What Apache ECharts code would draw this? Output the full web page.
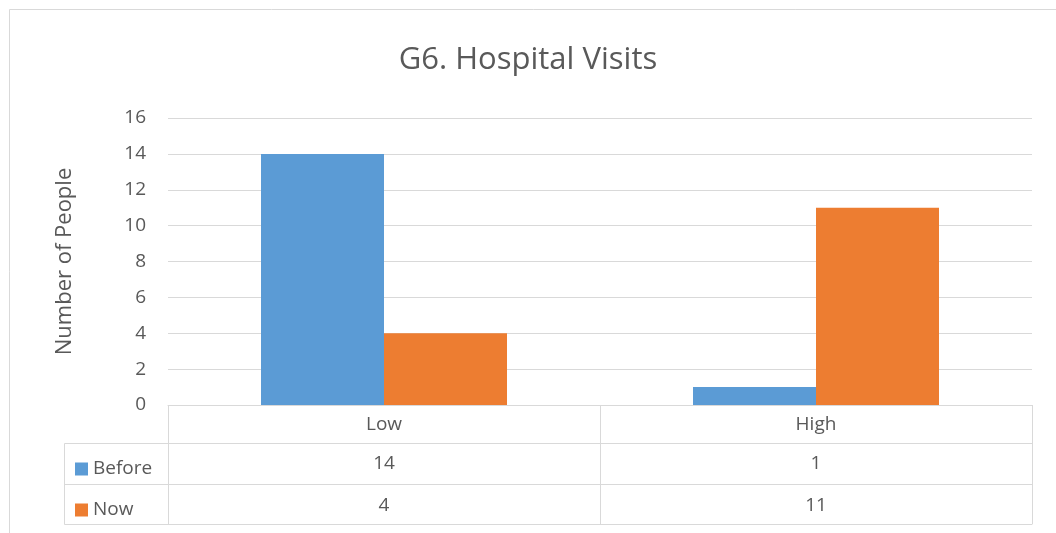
<!DOCTYPE html>
<html>
<head>
<meta charset="utf-8">
<script src="https://cdn.jsdelivr.net/npm/echarts@6/dist/echarts.min.js"></script>
<style>
  html, body { margin: 0; padding: 0; background: #fff; }
  #chart { width: 1056px; height: 533px; }
</style>
</head>
<body>
<div id="chart"></div>
<script>
// G6. Hospital Visits — clustered bars with an Excel-style data table
const categories = ['Low', 'High']
const before = [14, 1]
const now = [4, 11]
const yTicks = [0, 2, 4, 6, 8, 10, 12, 14, 16]

const GRID = '#d9d9d9'
const TEXT = '#595959'
const FONT = 'Open Sans'

const chart = echarts.init(document.getElementById('chart'), null, { renderer: 'canvas' })

// table rows below the plot are extra category axes sharing the grid
function tableAxis(offset, tickLen, values, margin) {
  return {
    type: 'category',
    position: 'bottom',
    offset: offset,
    data: categories,
    axisLine: { show: true, lineStyle: { color: GRID, width: 1 } },
    axisTick: { show: tickLen > 0, length: tickLen, lineStyle: { color: GRID } },
    axisLabel: {
      show: !!values,
      color: TEXT,
      fontFamily: FONT,
      fontSize: 19,
      margin: margin,
      formatter: (v, i) => (values ? String(values[i]) : ''),
    },
    splitLine: { show: false },
  }
}

chart.setOption({
  animation: false,
  backgroundColor: '#fff',
  title: {
    text: 'G6. Hospital Visits',
    left: 'center',
    top: 40,
    textStyle: { color: TEXT, fontFamily: FONT, fontSize: 31, fontWeight: 'normal' },
  },
  legend: {
    orient: 'vertical',
    left: 70,
    top: 454,
    itemWidth: 13,
    itemHeight: 13,
    itemGap: 21,
    icon: 'rect',
    selectedMode: false,
    textStyle: { color: TEXT, fontFamily: FONT, fontSize: 19, lineHeight: 20 },
    data: ['Before', 'Now'],
  },
  grid: { left: 168, right: 24, top: 118, bottom: 128, containLabel: false },
  xAxis: [
    {
      type: 'category',
      position: 'bottom',
      data: categories,
      axisLine: { lineStyle: { color: GRID } },
      axisTick: { show: true, length: 38, lineStyle: { color: GRID } },
      axisLabel: { color: TEXT, fontFamily: FONT, fontSize: 19, margin: 10 },
    },
    tableAxis(38, 41, before, 11),
    tableAxis(79, 40, now, 12),
    tableAxis(119, 0, null, 0),
  ],
  yAxis: {
    type: 'value',
    min: 0,
    max: 16,
    interval: 2,
    name: 'Number of People',
    nameLocation: 'middle',
    nameGap: 92,
    nameTextStyle: { color: TEXT, fontFamily: FONT, fontSize: 22 },
    axisLine: { show: false },
    axisTick: { show: false },
    axisLabel: {
      color: TEXT,
      fontFamily: FONT,
      fontSize: 19,
      margin: 22,
      formatter: (v) => (yTicks.includes(v) ? String(v) : ''),
    },
    splitLine: { lineStyle: { color: GRID, width: 1 } },
  },
  series: [
    {
      name: 'Before',
      type: 'bar',
      xAxisIndex: 0,
      data: before,
      barWidth: 123,
      barGap: '0%',
      itemStyle: { color: '#5b9bd5' },
    },
    {
      name: 'Now',
      type: 'bar',
      xAxisIndex: 0,
      data: now,
      barWidth: 123,
      barGap: '0%',
      itemStyle: { color: '#ed7d31' },
    },
  ],
  graphic: [
    // outer chart-area border (runs off the right and bottom edges)
    {
      type: 'rect',
      shape: { x: 9.5, y: 9.5, width: 1200, height: 700 },
      style: { fill: null, stroke: GRID, lineWidth: 1 },
      silent: true,
    },
    // legend column of the data table
    {
      type: 'polyline',
      shape: { points: [[168, 443.5], [64.5, 443.5], [64.5, 524.5], [168, 524.5]] },
      style: { fill: null, stroke: GRID, lineWidth: 1 },
      silent: true,
    },
    {
      type: 'line',
      shape: { x1: 64.5, y1: 484.5, x2: 168, y2: 484.5 },
      style: { stroke: GRID, lineWidth: 1 },
      silent: true,
    },
  ],
})
</script>
</body>
</html>
